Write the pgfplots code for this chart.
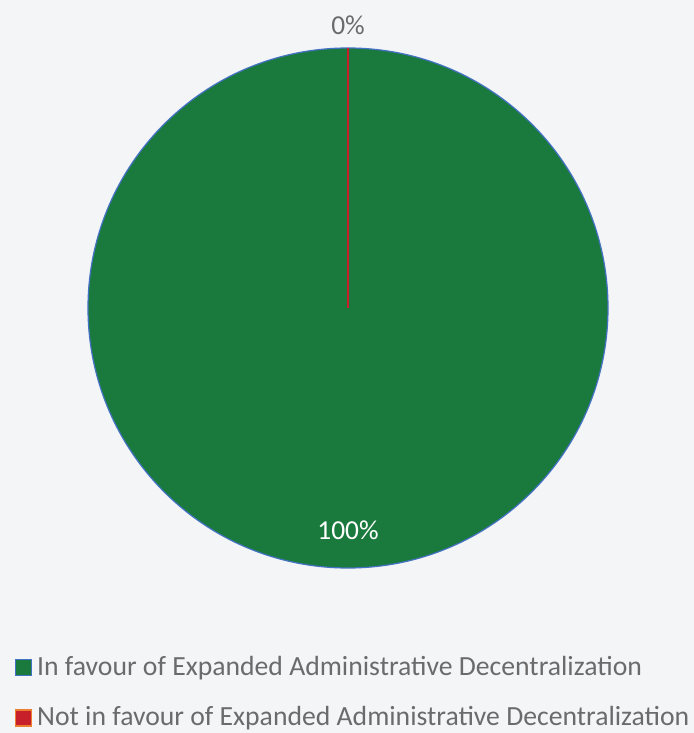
\documentclass[border=0pt]{standalone}
\usepackage{pgfplots}
\usepackage{pgfplotstable}
\pgfplotsset{compat=1.18}
\usepackage{fontspec}
\setmainfont{Carlito}
\definecolor{bg}{HTML}{F4F5F7}
\definecolor{pgreen}{HTML}{1A7A3E}
\definecolor{pred}{HTML}{C8202A}
\definecolor{pblue}{HTML}{4472C4}
\definecolor{porange}{HTML}{ED7D31}
\definecolor{tgray}{HTML}{6B6B6B}
\pgfplotstableread{
label value
In 100
Not 0
}\piedata
\begin{document}
\begin{tikzpicture}
\pgfplotstablegetelem{0}{value}\of\piedata \let\va\pgfplotsretval
\pgfplotstablegetelem{1}{value}\of\piedata \let\vb\pgfplotsretval
\pgfmathsetmacro{\tot}{\va+\vb}
\pgfmathsetmacro{\aend}{90-360*(\va/\tot)}
\pgfmathsetmacro{\bend}{\aend-360*(\vb/\tot)}
\clip (0,0) rectangle (694bp,733bp);
\begin{axis}[x=1bp,y=1bp,xmin=0,xmax=694,ymin=0,ymax=733,hide axis,scale only axis,clip=false,
  /pgf/number format/assume math mode=true]
\fill[bg] (axis cs:0,0) rectangle (axis cs:694,733);
\filldraw[fill=pgreen,draw=pblue,line width=1.2bp] (axis cs:348,425) -- ++(90:260bp) arc[start angle=90,end angle=\aend,radius=260bp] -- cycle;
\draw[pred,line width=2bp] (axis cs:348,425) -- ++(\aend:260bp);
\node[anchor=base,inner sep=0pt,font=\fontsize{27.5}{32}\selectfont,text=tgray] at (axis cs:348,698) {\pgfmathprintnumber{\vb}\%};
\node[anchor=base,inner sep=0pt,font=\fontsize{27.5}{32}\selectfont,text=white] at (axis cs:348,194) {\pgfmathprintnumber{\va}\%};
\filldraw[fill=pgreen,draw=pblue,line width=1.5bp] (axis cs:15.5,57.5) rectangle (axis cs:31.5,73.5);
\filldraw[fill=pred,draw=porange,line width=1.5bp] (axis cs:15.5,7) rectangle (axis cs:31.5,23);
\node[anchor=base west,inner sep=0pt,font=\fontsize{27.8}{32}\selectfont,text=tgray] at (axis cs:37,58) {In favour of Expanded Administrative Decentralization};
\node[anchor=base west,inner sep=0pt,font=\fontsize{27.8}{32}\selectfont,text=tgray] at (axis cs:37,7.5) {Not in favour of Expanded Administrative Decentralization};
\end{axis}
\useasboundingbox (0,0) rectangle (694bp,733bp);
\end{tikzpicture}
\end{document}
